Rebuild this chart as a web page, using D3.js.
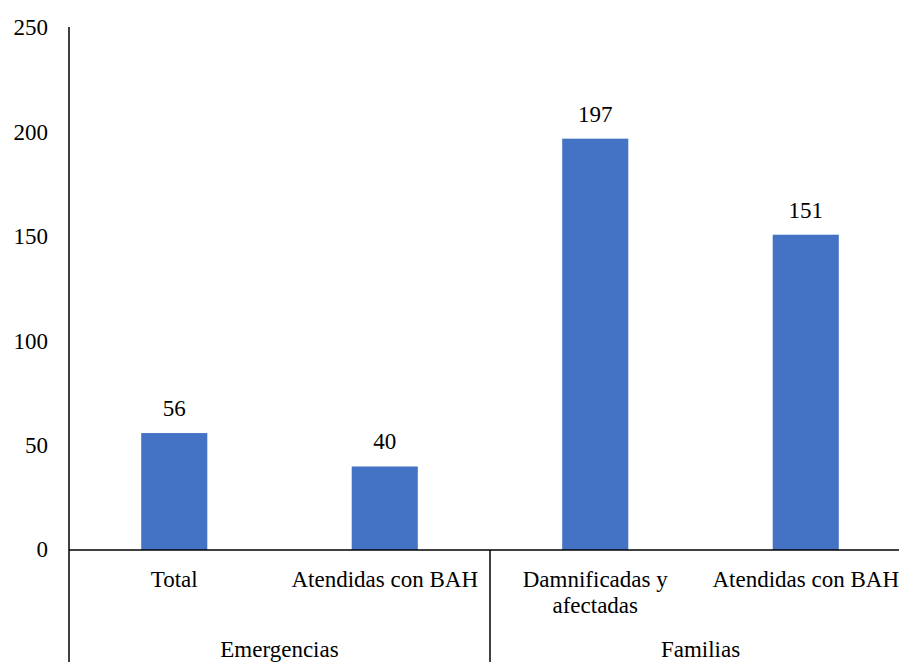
<!DOCTYPE html>
<html><head><meta charset="utf-8"><script src="https://cdn.jsdelivr.net/npm/d3@7"></script></head>
<body style="margin:0">
<svg id="chart" width="899" height="662" font-family="'Times New Roman', 'Liberation Serif', Tinos, serif" font-size="23"></svg>
<script>
// Category data: each bar belongs to a group shown on the second axis row
const categories = ["Total", "Atendidas con BAH", "Damnificadas y\nafectadas", "Atendidas con BAH"];
const groups = ["Emergencias", "Emergencias", "Familias", "Familias"];
const groupNames = ["Emergencias", "Familias"];
const values = [56, 40, 197, 151];
const yTicks = [0, 50, 100, 150, 200, 250];

const svg = d3.select("#chart");

const plotLeft = 69, plotRight = 911, plotTop = 28, plotBottom = 550;

// Band scale keyed by index, since two categories share a name
const x = d3.scaleBand()
  .domain(d3.range(categories.length))
  .range([plotLeft, plotRight])
  .paddingInner(0.686)
  .paddingOuter(0.343);

const y = d3.scaleLinear()
  .domain([0, 250])
  .range([plotBottom, plotTop]);

// Bars
svg.selectAll("rect.bar")
  .data(values)
  .join("rect")
  .attr("class", "bar")
  .attr("x", (d, i) => x(i))
  .attr("width", x.bandwidth())
  .attr("y", d => y(d))
  .attr("height", d => y(0) - y(d))
  .attr("fill", "#4472C4");

// Value labels
svg.selectAll("text.value")
  .data(values)
  .join("text")
  .attr("class", "value")
  .attr("x", (d, i) => x(i) + x.bandwidth() / 2)
  .attr("y", d => y(d) - 17)
  .attr("text-anchor", "middle")
  .text(d => d);

// Y axis tick labels, placed from the same scale
svg.selectAll("text.ytick")
  .data(yTicks)
  .join("text")
  .attr("class", "ytick")
  .attr("x", plotLeft - 21)
  .attr("y", d => y(d))
  .attr("dy", "0.32em")
  .attr("text-anchor", "end")
  .text(d => d);

// Vertical axis line, running down through the category rows
svg.append("line")
  .attr("x1", plotLeft).attr("x2", plotLeft)
  .attr("y1", plotTop - 1).attr("y2", 662)
  .attr("stroke", "#000").attr("stroke-width", 1.5);

// Baseline
svg.append("line")
  .attr("x1", plotLeft).attr("x2", plotRight)
  .attr("y1", y(0)).attr("y2", y(0))
  .attr("stroke", "#000").attr("stroke-width", 1.5);

// Category labels (first row)
svg.selectAll("text.cat")
  .data(categories)
  .join("text")
  .attr("class", "cat")
  .attr("text-anchor", "middle")
  .attr("y", 587)
  .each(function(d, i) {
    const cx = x(i) + x.bandwidth() / 2;
    d3.select(this).selectAll("tspan")
      .data(d.split("\n"))
      .join("tspan")
      .attr("x", cx)
      .attr("dy", (l, k) => k === 0 ? 0 : 26)
      .text(l => l);
  });

// Group labels (second row) and separators between groups
const gap = x.step() * x.paddingInner() / 2;
groupNames.forEach((g, gi) => {
  const idx = d3.range(categories.length).filter(i => groups[i] === g);
  const x0 = x(idx[0]) - gap;
  const x1 = x(idx[idx.length - 1]) + x.bandwidth() + gap;
  svg.append("text")
    .attr("x", (x0 + x1) / 2)
    .attr("y", 657)
    .attr("text-anchor", "middle")
    .text(g);
  if (gi > 0) {
    svg.append("line")
      .attr("x1", x0).attr("x2", x0)
      .attr("y1", y(0)).attr("y2", 662)
      .attr("stroke", "#000").attr("stroke-width", 1.5);
  }
});
</script>
</body></html>
